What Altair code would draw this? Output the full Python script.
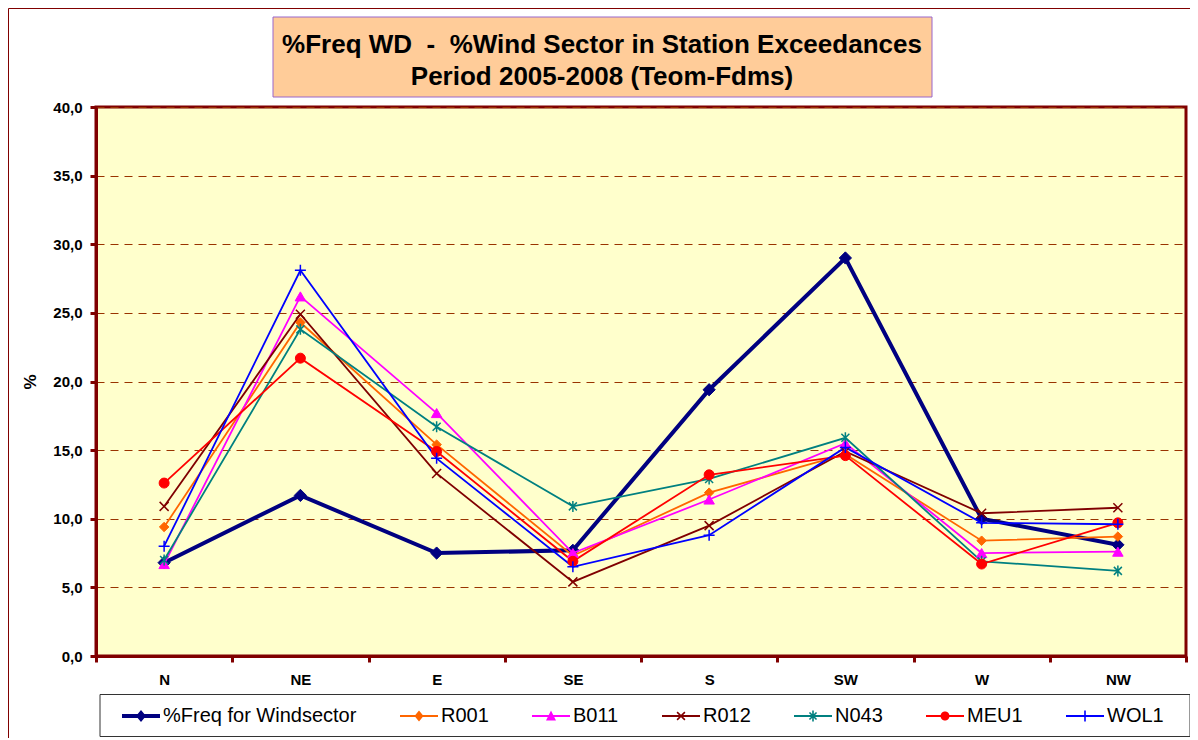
import altair as alt
import pandas as pd
import numpy as np

# ---------------- data ----------------
sectors = ["N", "NE", "E", "SE", "S", "SW", "W", "NW"]
series_names = ["%Freq for Windsector", "R001", "B011", "R012", "N043", "MEU1", "WOL1"]

freq = [6.8, 11.7, 7.5, 7.7, 19.4, 29.0, 10.0, 8.1]
r001 = [9.4, 24.3, 15.4, 7.3, 11.9, 14.7, 8.4, 8.7]
b011 = [6.7, 26.2, 17.7, 7.5, 11.4, 15.5, 7.5, 7.6]
r012 = [10.9, 24.9, 13.3, 5.4, 9.5, 14.9, 10.4, 10.8]
n043 = [7.0, 23.8, 16.7, 10.9, 12.9, 15.9, 6.9, 6.2]
meu1 = [12.6, 21.7, 14.9, 6.9, 13.2, 14.6, 6.7, 9.7]
wol1 = [8.0, 28.1, 14.4, 6.5, 8.8, 15.2, 9.7, 9.6]

y_ticks = [0, 5, 10, 15, 20, 25, 30, 35, 40]
title_line1 = "%Freq WD \u00a0- \u00a0%Wind Sector in Station Exceedances"
title_line2 = "Period 2005-2008 (Teom-Fdms)"

# ---------------- styles ----------------
colors = ["#000080", "#FF6600", "#FF00FF", "#800000", "#008080", "#FF0000", "#0000FF"]
FONT = "Liberation Sans"
MAROON = "#800000"

all_values = [freq, r001, b011, r012, n043, meu1, wol1]
df = pd.DataFrame(
    [{"sector": s, "series": n, "value": v}
     for n, vals in zip(series_names, all_values)
     for s, v in zip(sectors, vals)]
)

# ---------- legend symbol paths (filled polygons, unit = 6px) ----------
U = 6.0
L0, L1 = -10.0, 28.0     # line extent (px) relative to symbol centre
MX = (L0 + L1) / 2       # marker centre


def poly(pts):
    return "M" + "L".join(f"{x / U:.3f},{y / U:.3f}" for x, y in pts) + "Z"


def bar(cx, cy, length, th, ang_deg):
    a = np.deg2rad(ang_deg)
    ca, sa = np.cos(a), np.sin(a)
    base = [(-length / 2, -th / 2), (length / 2, -th / 2), (length / 2, th / 2), (-length / 2, th / 2)]
    return poly([(cx + x * ca - y * sa, cy + x * sa + y * ca) for x, y in base])


def line_rect(th):
    return poly([(L0, -th / 2), (L1, -th / 2), (L1, th / 2), (L0, th / 2)])


def diamond(hw, hh):
    return poly([(MX, -hh), (MX + hw, 0), (MX, hh), (MX - hw, 0)])


def circle(r, n=18):
    t = np.linspace(0, 2 * np.pi, n, endpoint=False)
    return poly([(MX + r * np.cos(a), r * np.sin(a)) for a in t])


legend_paths = [
    line_rect(4) + diamond(5, 6),
    line_rect(2) + diamond(4.5, 5.5),
    line_rect(2) + poly([(MX, -5.5), (MX + 5, 4.5), (MX - 5, 4.5)]),
    line_rect(2) + bar(MX, 0, 11, 1.6, 45) + bar(MX, 0, 11, 1.6, -45),
    line_rect(2) + bar(MX, 0, 10, 1.6, 45) + bar(MX, 0, 10, 1.6, -45) + bar(MX, 0, 11, 1.6, 90),
    line_rect(2) + circle(4.5),
    line_rect(2) + bar(MX, 0, 11, 1.6, 90),
]

# ---------------- encodings ----------------
X = alt.X(
    "sector:N", sort=sectors, bandPosition=0.5,
    scale=alt.Scale(type="band", domain=sectors, paddingInner=0, paddingOuter=0),
    axis=alt.Axis(
        title=None, labelAngle=0, labelFont=FONT, labelFontSize=15, labelFontWeight="bold",
        labelColor="black", labelPadding=10, tickBand="extent", tickSize=6, tickWidth=3,
        tickColor=MAROON, domainColor=MAROON, domainWidth=3, grid=False,
    ),
)
Y = alt.Y(
    "value:Q",
    scale=alt.Scale(domain=[0, 40], nice=False, zero=False),
    axis=alt.Axis(
        values=y_ticks, labelExpr="replace(format(datum.value, '.1f'), '.', ',')",
        labelFont=FONT, labelFontSize=15, labelFontWeight="bold", labelColor="black",
        labelPadding=8, tickSize=6, tickWidth=3, tickColor=MAROON,
        domainColor=MAROON, domainWidth=3,
        grid=True, gridColor="#993300", gridDash=[8, 6], gridWidth=1,
        title="%", titleFont=FONT, titleFontSize=17, titleFontWeight="bold",
        titleColor="black", titleX=-66, titleY=274.5, titleBaseline="middle", titleAlign="center",
    ),
)

one = alt.Data(values=[{}])

# decorative boxes
title_box = alt.Chart(one).mark_rect(fill="#FFCC99", stroke="#9966CC", strokeWidth=1).encode(
    x=alt.value(177), x2=alt.value(836), y=alt.value(-90), y2=alt.value(-10))
title_t1 = alt.Chart(one).mark_text(
    text=title_line1, font=FONT, fontSize=26, fontWeight="bold", color="black",
    align="center", baseline="middle").encode(x=alt.value(506), y=alt.value(-62))
title_t2 = alt.Chart(one).mark_text(
    text=title_line2, font=FONT, fontSize=26, fontWeight="bold", color="black",
    align="center", baseline="middle").encode(x=alt.value(506), y=alt.value(-30))
legend_box = alt.Chart(one).mark_rect(fill="white", stroke="#333333", strokeWidth=1).encode(
    x=alt.value(4), x2=alt.value(1094), y=alt.value(587.5), y2=alt.value(629.5))
outer_left = alt.Chart(one).mark_rule(color=MAROON, strokeWidth=1).encode(
    x=alt.value(-87.5), y=alt.value(-98.5), y2=alt.value(640))
outer_top = alt.Chart(one).mark_rule(color=MAROON, strokeWidth=1).encode(
    x=alt.value(-87.5), x2=alt.value(1100), y=alt.value(-98.5))

# data layers
freq_line = alt.Chart(df).transform_filter(alt.datum.series == series_names[0]).mark_line(
    strokeWidth=4, stroke=colors[0]).encode(x=X, y=Y)
other_lines = alt.Chart(df).transform_filter(alt.datum.series != series_names[0]).mark_line(
    strokeWidth=1.8).encode(
    x=X, y=Y,
    stroke=alt.Stroke("series:N", scale=alt.Scale(domain=series_names[1:], range=colors[1:]), legend=None))


def pts(i, **mk):
    return alt.Chart(df).transform_filter(alt.datum.series == series_names[i]).mark_point(
        opacity=1, **mk).encode(x=X, y=Y)


X_PATH = "M-4.5,-4.5L4.5,4.5M-4.5,4.5L4.5,-4.5"
AST_PATH = "M-4,-4L4,4M-4,4L4,-4M0,-5.5L0,5.5"
PLUS_PATH = "M-5.5,0L5.5,0M0,-5.5L0,5.5"

p_freq = pts(0, shape="diamond", size=150, filled=True, fill=colors[0], stroke=colors[0], strokeWidth=1)
p_r001 = pts(1, shape="diamond", size=90, filled=True, fill=colors[1], stroke=colors[1], strokeWidth=1)
p_b011 = pts(2, shape="triangle-up", size=110, filled=True, fill=colors[2], stroke=colors[2], strokeWidth=1)
p_r012 = pts(3, shape=X_PATH, size=4, filled=False, stroke=colors[3], strokeWidth=1.5)
p_n043 = pts(4, shape=AST_PATH, size=4, filled=False, stroke=colors[4], strokeWidth=1.5)
p_meu1 = pts(5, shape="circle", size=100, filled=True, fill=colors[5], stroke=colors[5], strokeWidth=1)
p_wol1 = pts(6, shape=PLUS_PATH, size=4, filled=False, stroke=colors[6], strokeWidth=1.5)

leg = alt.Legend(
    title=None, orient="none", legendX=26, legendY=599, direction="horizontal",
    columnPadding=42, symbolSize=144, symbolStrokeWidth=0, symbolOpacity=1,
    labelOffset=21, labelFont=FONT, labelFontSize=20, labelColor="black", labelLimit=400,
)
legend_layer = alt.Chart(df).mark_point(filled=True, opacity=0).encode(
    x=X, y=Y,
    color=alt.Color("series:N", scale=alt.Scale(domain=series_names, range=colors), legend=leg),
    shape=alt.Shape("series:N", scale=alt.Scale(domain=series_names, range=legend_paths), legend=leg),
)

chart = alt.layer(
    outer_left, outer_top, title_box, title_t1, title_t2, legend_box,
    freq_line, p_freq, other_lines,
    p_r001, p_b011, p_r012, p_n043, p_meu1, p_wol1,
    legend_layer,
).properties(
    width=1090, height=549,
    padding={"left": 88, "top": 99, "right": 4, "bottom": 82},
    autosize=alt.AutoSizeParams(type="none"),
).configure(
    background="white", font=FONT,
).configure_view(
    fill="#FFFFCC", stroke=MAROON, strokeWidth=3,
)

chart.save("out.html", embed_options={"renderer": "svg", "actions": False})
